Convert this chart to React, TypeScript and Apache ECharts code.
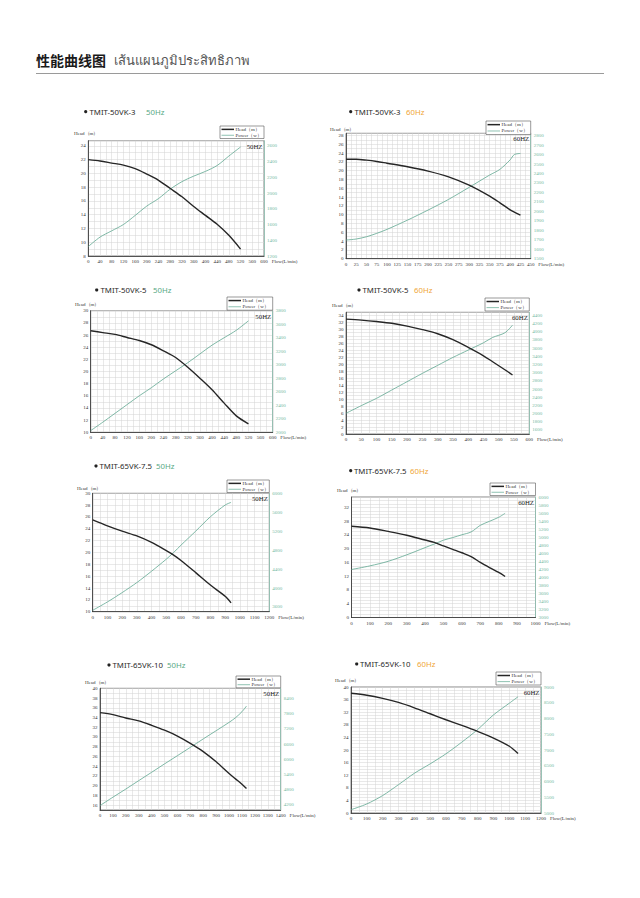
import React, { useEffect, useRef } from 'react';
import * as echarts from 'echarts';

// ---------- data ----------
const HEAD_NAME = 'Head（m）';
const POWER_NAME = 'Power（w）';

const MODELS = ['TMIT-50VK-3', 'TMIT-50VK-3', 'TMIT-50VK-5', 'TMIT-50VK-5', 'TMIT-65VK-7.5', 'TMIT-65VK-7.5', 'TMIT-65VK-10', 'TMIT-65VK-10'];
const FREQS = ['50Hz', '60Hz', '50Hz', '60Hz', '50Hz', '60Hz', '50Hz', '60Hz'];
const TAGS = ['50HZ', '60HZ', '50HZ', '60HZ', '50HZ', '60HZ', '50HZ', '60HZ'];

const FLOW_1 = [0, 40, 80, 120, 160, 200, 240, 280, 320, 360, 400, 440, 480, 520];
const HEAD_1 = [22.0, 21.8, 21.5, 21.2, 20.7, 19.9, 19.0, 17.8, 16.6, 15.2, 13.9, 12.6, 11.0, 9.0];
const POWER_1 = [1320, 1440, 1520, 1600, 1715, 1835, 1930, 2050, 2145, 2215, 2275, 2350, 2470, 2585];

const FLOW_2 = [0, 25, 50, 75, 100, 150, 200, 250, 300, 350, 375, 400, 410, 425];
const HEAD_2 = [22.6, 22.6, 22.4, 22.1, 21.7, 20.9, 19.9, 18.6, 16.7, 14.2, 12.7, 11.1, 10.6, 9.9];
const POWER_2 = [1697, 1708, 1732, 1768, 1810, 1908, 2014, 2127, 2254, 2384, 2444, 2545, 2600, 2612];

const FLOW_3 = [0, 40, 80, 120, 160, 200, 240, 280, 320, 360, 400, 440, 480, 520];
const HEAD_3 = [26.7, 26.4, 26.1, 25.6, 25.1, 24.4, 23.4, 22.3, 20.7, 18.9, 17.0, 14.8, 12.7, 11.4];
const POWER_3 = [2025, 2150, 2280, 2410, 2540, 2660, 2790, 2910, 3030, 3160, 3290, 3400, 3510, 3650];

const FLOW_4 = [0, 50, 100, 150, 200, 250, 300, 350, 400, 450, 480, 520, 545];
const HEAD_4 = [32.9, 32.6, 32.2, 31.7, 30.9, 29.9, 28.7, 27.0, 24.8, 22.4, 20.7, 18.4, 16.9];
const POWER_4 = [2006, 2193, 2372, 2576, 2779, 2982, 3177, 3372, 3551, 3730, 3860, 3974, 4160];

const FLOW_5 = [0, 100, 200, 300, 400, 500, 550, 600, 700, 800, 900, 940];
const HEAD_5 = [25.5, 24.5, 23.6, 22.8, 21.7, 20.3, 19.55, 18.65, 16.6, 14.5, 12.6, 11.5];
const POWER_5 = [3529, 3706, 3903, 4115, 4355, 4609, 4750, 4905, 5201, 5505, 5752, 5808];

const FLOW_6 = [0, 100, 200, 300, 400, 450, 500, 550, 600, 650, 700, 750, 800, 835];
const HEAD_6 = [26.5, 26.0, 25.0, 23.9, 22.5, 21.8, 20.8, 19.8, 18.8, 17.7, 16.0, 14.5, 13.1, 11.9];
const POWER_6 = [4195, 4285, 4400, 4560, 4740, 4830, 4925, 4990, 5060, 5130, 5295, 5395, 5495, 5595];

const FLOW_7 = [0, 100, 200, 300, 400, 500, 600, 700, 800, 900, 1000, 1050, 1100, 1135];
const HEAD_7 = [35.0, 34.6, 33.9, 33.3, 32.4, 31.4, 30.2, 28.7, 27.0, 24.9, 22.5, 21.4, 20.3, 19.4];
const POWER_7 = [4174, 4505, 4826, 5158, 5487, 5819, 6143, 6471, 6804, 7128, 7456, 7640, 7877, 8099];

const FLOW_8 = [0, 100, 200, 300, 400, 500, 600, 700, 800, 900, 1000, 1055];
const HEAD_8 = [38.0, 37.4, 36.4, 35.1, 33.4, 31.5, 29.6, 27.8, 25.9, 23.8, 21.2, 18.9];
const POWER_8 = [5105, 5288, 5554, 5900, 6260, 6560, 6880, 7250, 7650, 8115, 8486, 8690];

// axis scales
const X_MAX = [600, 450, 600, 600, 1200, 1000, 1400, 1200];
const X_GRID = [20, 12.5, 20, 25, 50, 50, 50, 50];
const X_LABEL = [40, 25, 40, 50, 100, 100, 100, 100];
const HEAD_MIN = [8, 0, 10, 0, 10, 0, 15, 0];
const HEAD_MAX = [24.75, 28.5, 30, 34.85, 30, 35, 40, 40];
const HEAD_LABEL = [2, 2, 2, 2, 2, 4, 2, 4];
const POWER_MIN = [1200, 1500, 2000, 1500, 3500, 3000, 4000, 5000];
const POWER_MAX = [2665, 2825, 3800, 4475, 6000, 6000, 8800, 9000];
const POWER_STEP = [200, 100, 200, 100, 100, 200, 200, 500];
const POWER_LABEL = [200, 100, 200, 200, 400, 200, 600, 500];
const POWER_BASE = [1200, 1500, 2000, 1600, 3600, 3000, 4200, 5000];

const FLOWS = [FLOW_1, FLOW_2, FLOW_3, FLOW_4, FLOW_5, FLOW_6, FLOW_7, FLOW_8];
const HEADS = [HEAD_1, HEAD_2, HEAD_3, HEAD_4, HEAD_5, HEAD_6, HEAD_7, HEAD_8];
const POWERS = [POWER_1, POWER_2, POWER_3, POWER_4, POWER_5, POWER_6, POWER_7, POWER_8];

// ---------- layout (pixels) ----------
// g: grid [left, top, width, height]; t: [bulletX, y, modelX, freqX]; h: head label [x, y]; lg: legend box [x, y, w, h]
const LAYOUT = [
  { g: [88.3, 140.7, 175.7, 115.3], t: [85.7, 111.7, 89.5, 146], h: [74, 133], lg: [220, 126, 44, 12.5] },
  { g: [346, 133.3, 184.7, 125.4], t: [350.7, 111.7, 354.5, 406], h: [330, 129], lg: [486, 121, 44.7, 13.5] },
  { g: [90.7, 310.7, 182, 121.6], t: [96.7, 290, 100.5, 153], h: [75, 304], lg: [227, 297, 45.7, 13.2] },
  { g: [346, 312.3, 183.3, 121.7], t: [359, 290, 362.5, 414], h: [332, 305], lg: [485, 298, 44.3, 13] },
  { g: [92.7, 493.3, 176.6, 118.4], t: [96, 466, 99.5, 156], h: [77, 488], lg: [227, 480, 42.3, 12.5] },
  { g: [351.5, 497, 184, 120.5], t: [350.7, 470.7, 354, 410], h: [337, 490], lg: [490, 483, 45.5, 12.5] },
  { g: [100, 688.3, 180.7, 121.7], t: [109, 665, 112.5, 167], h: [85, 682], lg: [236, 676, 44.7, 11.8] },
  { g: [351, 687, 190, 126], t: [356.7, 664, 360, 417], h: [335, 680], lg: [496, 672, 45, 13] },
];

const SERIF = '"Liberation Serif", "DejaVu Serif", serif';
const SANS = '"Noto Sans", "Open Sans", sans-serif';
const GREEN_LINE = '#5fa790';
const GREEN_TEXT = '#74b8a2';
const HEAD_COLOR = '#262626';
const HZ_COLOR: Record<string, string> = { '50Hz': '#58a985', '60Hz': '#efa638' };

function labelFmt(base: number, step: number) {
  return (v: number) => {
    const k = (v - base) / step;
    return Math.abs(k - Math.round(k)) < 1e-6 && k > -1e-6 ? String(Math.round(v)) : '';
  };
}

export default function App() {
  const ref = useRef<HTMLDivElement>(null);
  useEffect(() => {
    const chart = echarts.init(ref.current!, undefined, { renderer: 'svg' });
    const grid: any[] = [];
    const xAxis: any[] = [];
    const yAxis: any[] = [];
    const series: any[] = [];
    const graphic: any[] = [
      { type: 'text', x: 36, y: 60, silent: true, style: { text: '性能曲线图', fontSize: 14, fontWeight: 'bold', fontFamily: '"Noto Sans CJK SC", sans-serif', fill: '#1a1a1a', verticalAlign: 'middle' } },
      { type: 'text', x: 114, y: 60, silent: true, style: { text: 'เส้นแผนภูมิประสิทธิภาพ', fontSize: 13, fontFamily: '"Noto Sans", "DejaVu Sans", sans-serif', fill: '#555', verticalAlign: 'middle' } },
      { type: 'line', silent: true, shape: { x1: 36, y1: 73.5, x2: 604, y2: 73.5 }, style: { stroke: '#9a9a9a', lineWidth: 1 } },
    ];

    MODELS.forEach((model, i) => {
      const L = LAYOUT[i];
      const [gl, gt, gw, gh] = L.g;
      grid.push({ left: gl, top: gt, width: gw, height: gh, show: true, borderColor: '#555', borderWidth: 0.7 });
      const lastLbl = String(X_MAX[i]);
      xAxis.push({
        type: 'value', gridIndex: i, min: 0, max: X_MAX[i], interval: X_GRID[i],
        axisLine: { show: true, lineStyle: { color: '#333', width: 0.8 } },
        axisTick: { show: false },
        axisLabel: { fontSize: 5, color: '#333', fontFamily: SERIF, margin: 3, formatter: labelFmt(0, X_LABEL[i]) },
        splitLine: { show: true, lineStyle: { color: '#d2d2d2', width: 0.5 } },
        name: 'Flow(L/min)', nameLocation: 'end', nameGap: lastLbl.length * 1.25 + 0.5,
        nameTextStyle: { fontSize: 5, fontFamily: SERIF, color: '#333', verticalAlign: 'top', padding: [3, 0, 0, 0] },
      });
      yAxis.push({
        type: 'value', gridIndex: i, position: 'left', min: HEAD_MIN[i], max: HEAD_MAX[i], interval: 1,
        axisLine: { show: true, lineStyle: { color: '#333', width: 0.8 } },
        axisTick: { show: false },
        axisLabel: { fontSize: 5, color: '#333', fontFamily: SERIF, margin: 2.5, formatter: labelFmt(0, HEAD_LABEL[i]) },
        splitLine: { show: true, lineStyle: { color: '#d2d2d2', width: 0.5 } },
      });
      yAxis.push({
        type: 'value', gridIndex: i, position: 'right', min: POWER_MIN[i], max: POWER_MAX[i], interval: POWER_STEP[i],
        axisLine: { show: true, lineStyle: { color: '#8cbfae', width: 0.8 } },
        axisTick: { show: false },
        axisLabel: { fontSize: 5, color: GREEN_TEXT, fontFamily: SERIF, margin: 3, formatter: labelFmt(POWER_BASE[i], POWER_LABEL[i]) },
        splitLine: { show: false },
      });
      const flow = FLOWS[i];
      series.push({
        type: 'line', name: POWER_NAME, xAxisIndex: i, yAxisIndex: 2 * i + 1,
        data: flow.map((f, j) => [f, POWERS[i][j]]), smooth: 0.3, symbol: 'none',
        lineStyle: { color: GREEN_LINE, width: 0.8 }, itemStyle: { color: GREEN_LINE }, silent: true,
      });
      series.push({
        type: 'line', name: HEAD_NAME, xAxisIndex: i, yAxisIndex: 2 * i,
        data: flow.map((f, j) => [f, HEADS[i][j]]), smooth: 0.3, symbol: 'none',
        lineStyle: { color: HEAD_COLOR, width: 1.4 }, itemStyle: { color: HEAD_COLOR }, silent: true,
      });

      // legend box
      const [lx, ly, lw, lh] = L.lg;
      const r1 = ly + lh * 0.27;
      const r2 = ly + lh * 0.74;
      graphic.push(
        { type: 'rect', silent: true, z: 20, shape: { x: lx, y: ly, width: lw, height: lh }, style: { fill: '#fff', stroke: '#555', lineWidth: 0.6 } },
        { type: 'line', silent: true, z: 21, shape: { x1: lx + 1.5, y1: r1, x2: lx + 14, y2: r1 }, style: { stroke: HEAD_COLOR, lineWidth: 1.5 } },
        { type: 'line', silent: true, z: 21, shape: { x1: lx + 1.5, y1: r2, x2: lx + 14, y2: r2 }, style: { stroke: GREEN_LINE, lineWidth: 0.7 } },
        { type: 'text', silent: true, z: 21, x: lx + 15.5, y: r1, style: { text: HEAD_NAME, fontSize: 5, fontFamily: SERIF, fill: '#333', verticalAlign: 'middle' } },
        { type: 'text', silent: true, z: 21, x: lx + 15.5, y: r2, style: { text: POWER_NAME, fontSize: 5, fontFamily: SERIF, fill: '#333', verticalAlign: 'middle' } },
      );

      const [bx, ty, mx, fx] = L.t;
      graphic.push(
        { type: 'circle', silent: true, shape: { cx: bx, cy: ty, r: 1.6 }, style: { fill: '#222' } },
        { type: 'text', silent: true, x: mx, y: ty, style: { text: model, fontSize: 7.8, fontFamily: SANS, fill: '#2a2a2a', verticalAlign: 'middle' } },
        { type: 'text', silent: true, x: fx, y: ty, style: { text: FREQS[i], fontSize: 7.8, fontFamily: SANS, fill: HZ_COLOR[FREQS[i]], verticalAlign: 'middle' } },
        { type: 'text', silent: true, x: L.h[0], y: L.h[1], style: { text: HEAD_NAME, fontSize: 5, fontFamily: SERIF, fill: '#333', verticalAlign: 'middle' } },
        { type: 'text', silent: true, x: gl + gw - 1.5, y: gt + 2, z: 10, style: { text: TAGS[i], fontSize: 6.8, fontFamily: SERIF, fill: '#222', align: 'right', verticalAlign: 'top' } },
      );
    });

    chart.setOption({ animation: false, backgroundColor: '#fff', grid, xAxis, yAxis, series, graphic });
    return () => chart.dispose();
  }, []);
  return <div ref={ref} style={{ position: 'absolute', left: 0, top: 0, width: 640, height: 898 }} />;
}
